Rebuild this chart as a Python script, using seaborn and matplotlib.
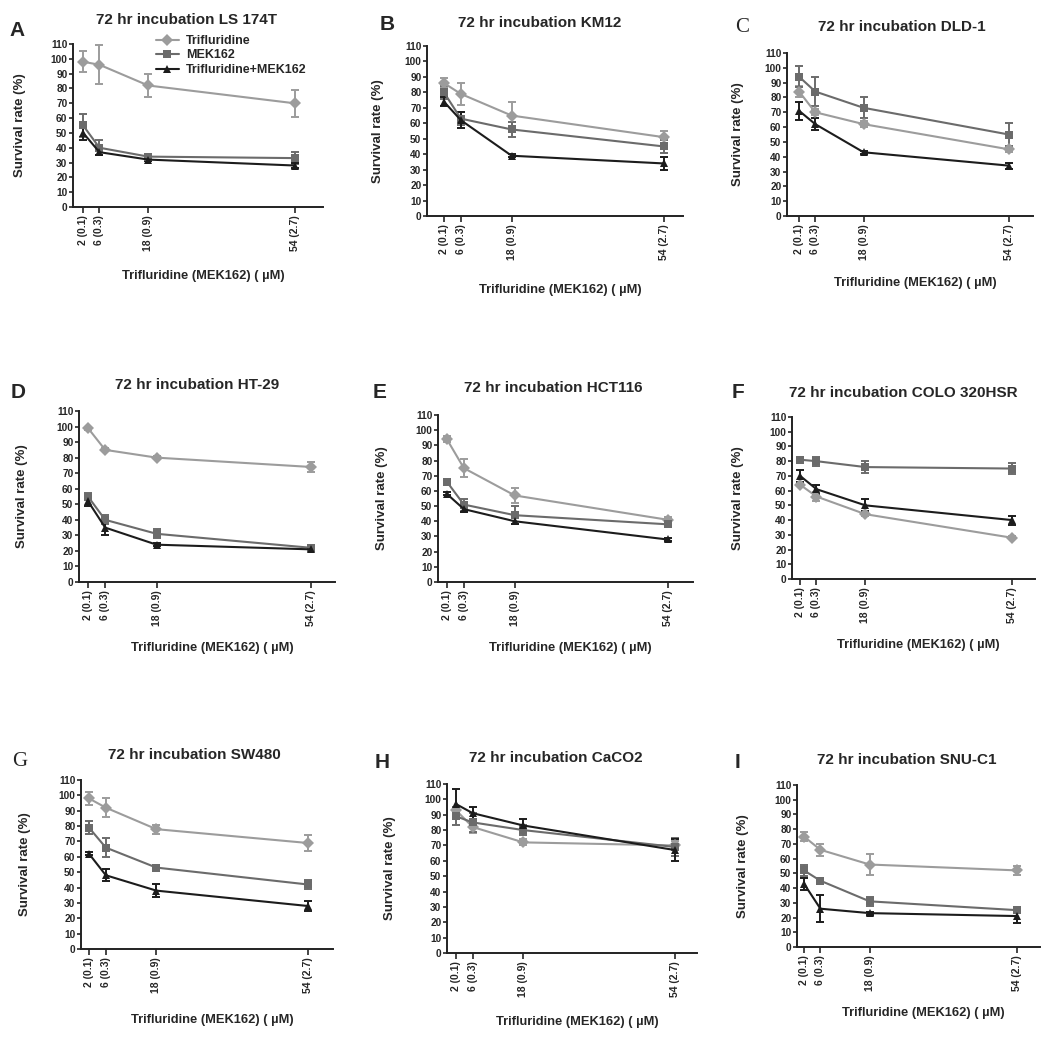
import matplotlib
matplotlib.use('Agg')
import matplotlib.pyplot as plt
from matplotlib.lines import Line2D
import seaborn as sns
import pandas as pd

# doses (Trifluridine, uM) and the tick labels that show the MEK162 dose too
doses = [2, 6, 18, 54]
dose_labels = ["2 (0.1)", "6 (0.3)", "18 (0.9)", "54 (2.7)"]
treatments = ["Trifluridine", "MEK162", "Trifluridine+MEK162"]

# survival rate (%) per cell line, rows = Trifluridine, MEK162, combination
ls174t_mean = [[98, 96, 82, 70], [55, 40, 34, 33], [50, 37, 32, 28]]
ls174t_err = [[7, 13, 8, 9], [8, 5, 2, 4], [5, 2, 1, 2]]
km12_mean = [[86, 79, 65, 51], [80, 63, 56, 45], [74, 62, 39, 34]]
km12_err = [[3, 7, 9, 4], [4, 4, 5, 4], [3, 5, 1, 4]]
dld1_mean = [[84, 70, 62, 45], [94, 84, 73, 55], [71, 62, 43, 34]]
dld1_err = [[4, 2, 2, 2], [7, 10, 7, 8], [6, 4, 1, 2]]
ht29_mean = [[99, 85, 80, 74], [55, 40, 31, 22], [52, 35, 24, 21]]
ht29_err = [[1, 1, 1, 3], [2, 3, 3, 2], [3, 5, 1, 1]]
hct116_mean = [[94, 75, 57, 41], [66, 51, 44, 38], [58, 48, 40, 28]]
hct116_err = [[2, 6, 5, 2], [2, 4, 6, 1], [1, 2, 2, 1]]
colo320_mean = [[64, 56, 44, 28], [81, 80, 76, 75], [70, 61, 50, 40]]
colo320_err = [[1, 3, 1, 1], [2, 3, 4, 4], [4, 3, 4, 3]]
sw480_mean = [[98, 92, 78, 69], [79, 66, 53, 42], [62, 48, 38, 28]]
sw480_err = [[4, 6, 3, 5], [4, 6, 1, 3], [1, 4, 4, 3]]
caco2_mean = [[93, 82, 72, 70], [89, 85, 80, 69], [97, 91, 83, 67]]
caco2_err = [[2, 4, 2, 3], [6, 6, 3, 6], [10, 4, 4, 7]]
snuc1_mean = [[75, 66, 56, 52], [52, 45, 31, 25], [43, 26, 23, 21]]
snuc1_err = [[3, 4, 7, 3], [4, 1, 3, 2], [4, 9, 1, 5]]

panels = [
    ("A", "72 hr incubation LS 174T", ls174t_mean, ls174t_err),
    ("B", "72 hr incubation KM12", km12_mean, km12_err),
    ("C", "72 hr incubation DLD-1", dld1_mean, dld1_err),
    ("D", "72 hr incubation HT-29", ht29_mean, ht29_err),
    ("E", "72 hr incubation HCT116", hct116_mean, hct116_err),
    ("F", "72 hr incubation COLO 320HSR", colo320_mean, colo320_err),
    ("G", "72 hr incubation SW480", sw480_mean, sw480_err),
    ("H", "72 hr incubation CaCO2", caco2_mean, caco2_err),
    ("I", "72 hr incubation SNU-C1", snuc1_mean, snuc1_err),
]

# layout in pixels: axes box (left, right, top=110, bottom=0), xlim,
# title centre, letter pos, ylabel x, xlabel y
layout = [
    ((73, 323, 44, 207), (-0.5, 61), (186, 20), (17, 30), 20, 276),
    ((427, 683, 46, 216), (-2, 58.5), (540, 23), (387, 25), 378, 290),
    ((787, 1033, 53, 216), (-1, 60), (902, 27), (742, 27), 738, 283),
    ((79, 335, 411, 582), (-0.1, 59.6), (197, 385), (18, 392), 22, 648),
    ((438, 693, 415, 582), (-0.1, 60), (553, 388), (380, 392), 382, 648),
    ((792, 1035, 417, 579), (0, 59.6), (903, 393), (738, 392), 738, 645),
    ((81, 333, 780, 949), (0.1, 60), (194, 755), (20, 762), 25, 1020),
    ((447, 697, 784, 953), (-0.1, 59.2), (556, 758), (382, 762), 390, 1022),
    ((797, 1040, 785, 947), (0.3, 59.5), (907, 760), (737, 762), 743, 1013),
]

palette = {"Trifluridine": "#9c9c9c", "MEK162": "#6b6b6b", "Trifluridine+MEK162": "#1c1c1c"}
markers = {"Trifluridine": "D", "MEK162": "s", "Trifluridine+MEK162": "^"}

sns.set_style("ticks")
plt.rcParams['font.family'] = ['Liberation Sans', 'DejaVu Sans']
plt.rcParams['font.weight'] = 'bold'

W, H = 1050, 1041
fig = plt.figure(figsize=(W / 100, H / 100), dpi=100)


def fx(px):
    return px / W


def fy(py):
    return 1 - py / H


for (letter, title, mean, err), (box, xlim, tpos, lpos, ylx, xly) in zip(panels, layout):
    l, r, t, b = box
    ax = fig.add_axes([fx(l), fy(b), (r - l) / W, (b - t) / H])

    rows = []
    for name, m in zip(treatments, mean):
        for d, v in zip(doses, m):
            rows.append({"dose": d, "survival": v, "treatment": name})
    df = pd.DataFrame(rows)

    for name, m, e in zip(treatments, mean, err):
        ax.errorbar(doses, m, yerr=e, fmt="none", ecolor=palette[name],
                    elinewidth=1.4, capsize=3.2, capthick=1.4, zorder=2)

    sns.lineplot(data=df, x="dose", y="survival", hue="treatment", style="treatment",
                 hue_order=treatments, style_order=treatments, palette=palette,
                 markers=markers, dashes=False, markersize=6, markeredgewidth=0,
                 linewidth=1.5, errorbar=None, legend=False, ax=ax, zorder=3)

    ax.set_xlim(*xlim)
    ax.set_ylim(0, 110)
    ax.set_yticks(range(0, 111, 10))
    ax.set_xticks(doses)
    ax.set_xticklabels(dose_labels, rotation=90, fontsize=7.5, fontweight='bold')
    ax.tick_params(axis='y', labelsize=7.3, length=3, width=1.2, pad=1)
    ax.tick_params(axis='x', length=4, width=1.2, pad=2)
    for lab in ax.get_yticklabels():
        lab.set_fontweight('bold')
    ax.set_xlabel("")
    ax.set_ylabel("")
    sns.despine(ax=ax)
    for s in ("left", "bottom"):
        ax.spines[s].set_linewidth(1.4)
        ax.spines[s].set_color("#222222")

    fig.text(fx(tpos[0]), fy(tpos[1]), title, ha='center', va='center',
             fontsize=11, fontweight='bold')
    lfam = ['Liberation Serif'] if letter in ("C", "G") else ['Liberation Sans']
    fig.text(fx(lpos[0]), fy(lpos[1]), letter, ha='center', va='center',
             fontsize=15, fontweight='bold' if letter not in ("C", "G") else 'normal',
             family=lfam)
    fig.text(fx(ylx), fy((t + b) / 2), "Survival rate (%)", rotation=90,
             ha='center', va='center', fontsize=9.5, fontweight='bold')
    fig.text(fx((l + r) / 2 + 5), fy(xly), "Trifluridine (MEK162) ( \u00b5M)",
             ha='center', va='center', fontsize=9.3, fontweight='bold')

    if letter == "A":
        handles = [Line2D([], [], color=palette[n], marker=markers[n], markersize=6,
                          markeredgewidth=0, linewidth=1.5) for n in treatments]
        ax.legend(handles, treatments, loc='upper left',
                  bbox_to_anchor=(fx(156), fy(35)), bbox_transform=fig.transFigure,
                  frameon=False, fontsize=9, handlelength=1.8, handletextpad=0.6,
                  labelspacing=0.2, borderaxespad=0, borderpad=0)

fig.savefig("out.png", dpi=100)
